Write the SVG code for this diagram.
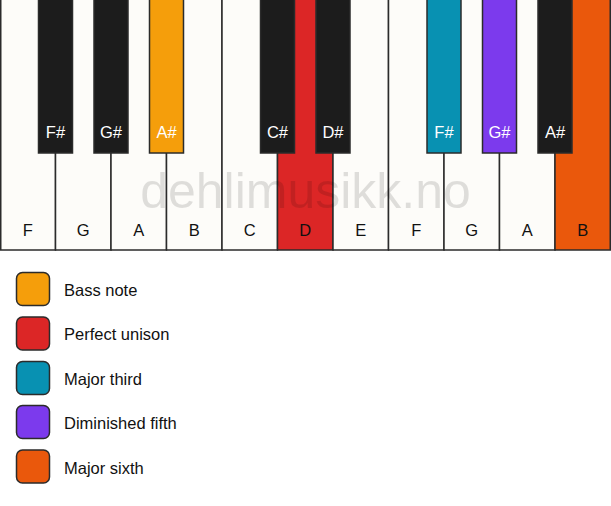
<svg xmlns="http://www.w3.org/2000/svg" width="611" height="506" viewBox="0 0 611 506">
<style>
.w{fill:#fdfcf9;stroke:#2b2b2b;stroke-width:1.5}
.b{fill:#1c1c1c;stroke:#2b2b2b;stroke-width:1.5}
.wt{font-family:"Liberation Sans",Arial,sans-serif;font-size:16.5px;fill:#111;text-anchor:middle}
.bt{font-family:"Liberation Sans",Arial,sans-serif;font-size:16.5px;fill:#fff;text-anchor:middle}
.lg{stroke:#2b2b2b;stroke-width:1.5}
.lt{font-family:"Liberation Sans",Arial,sans-serif;font-size:16.5px;fill:#111}
.wm{font-family:"Liberation Sans",Arial,sans-serif;font-size:50px;fill:#000;fill-opacity:0.12;text-anchor:middle}
</style>
<rect width="611" height="506" fill="#ffffff"/>
<g id="white-keys">
<g id="w-F1"><rect class="w" x="0.75" y="-1" width="54.75" height="251"/><text class="wt" x="27.75" y="236">F</text></g>
<g id="w-G1"><rect class="w" x="55.5" y="-1" width="55.5" height="251"/><text class="wt" x="83.25" y="236">G</text></g>
<g id="w-A1"><rect class="w" x="111" y="-1" width="55.5" height="251"/><text class="wt" x="138.75" y="236">A</text></g>
<g id="w-B1"><rect class="w" x="166.5" y="-1" width="55.5" height="251"/><text class="wt" x="194.25" y="236">B</text></g>
<g id="w-C"><rect class="w" x="222" y="-1" width="55.5" height="251"/><text class="wt" x="249.75" y="236">C</text></g>
<g id="w-D"><rect class="w" x="277.5" y="-1" width="55.5" height="251" style="fill:#dc2626"/><text class="wt" x="305.25" y="236">D</text></g>
<g id="w-E"><rect class="w" x="333" y="-1" width="55.5" height="251"/><text class="wt" x="360.75" y="236">E</text></g>
<g id="w-F2"><rect class="w" x="388.5" y="-1" width="55.5" height="251"/><text class="wt" x="416.25" y="236">F</text></g>
<g id="w-G2"><rect class="w" x="444" y="-1" width="55.5" height="251"/><text class="wt" x="471.75" y="236">G</text></g>
<g id="w-A2"><rect class="w" x="499.5" y="-1" width="55.5" height="251"/><text class="wt" x="527.25" y="236">A</text></g>
<g id="w-B2"><rect class="w" x="555" y="-1" width="55.25" height="251" style="fill:#ea580c"/><text class="wt" x="582.75" y="236">B</text></g>
</g>
<g id="black-keys">
<g id="b-Fs1"><rect class="b" x="38.5" y="-1" width="34" height="154"/><text class="bt" x="55.5" y="138">F#</text></g>
<g id="b-Gs1"><rect class="b" x="94" y="-1" width="34" height="154"/><text class="bt" x="111" y="138">G#</text></g>
<g id="b-As1"><rect class="b" x="149.5" y="-1" width="34" height="154" style="fill:#f59e0b"/><text class="bt" x="166.5" y="138">A#</text></g>
<g id="b-Cs"><rect class="b" x="260.5" y="-1" width="34" height="154"/><text class="bt" x="277.5" y="138">C#</text></g>
<g id="b-Ds"><rect class="b" x="316" y="-1" width="34" height="154"/><text class="bt" x="333" y="138">D#</text></g>
<g id="b-Fs2"><rect class="b" x="427" y="-1" width="34" height="154" style="fill:#0891b2"/><text class="bt" x="444" y="138">F#</text></g>
<g id="b-Gs2"><rect class="b" x="482.5" y="-1" width="34" height="154" style="fill:#7c3aed"/><text class="bt" x="499.5" y="138">G#</text></g>
<g id="b-As2"><rect class="b" x="538" y="-1" width="34" height="154"/><text class="bt" x="555" y="138">A#</text></g>
</g>
<text class="wm" x="305.5" y="208">dehlimusikk.no</text>
<g id="connectors"/>
<g id="legend">
<g id="lg-bass"><rect class="lg" x="16.5" y="272.5" width="33" height="33" rx="6" fill="#f59e0b"/><text class="lt" x="64" y="295.5">Bass note</text></g>
<g id="lg-unison"><rect class="lg" x="16.5" y="317" width="33" height="33" rx="6" fill="#dc2626"/><text class="lt" x="64" y="340">Perfect unison</text></g>
<g id="lg-third"><rect class="lg" x="16.5" y="361.5" width="33" height="33" rx="6" fill="#0891b2"/><text class="lt" x="64" y="384.5">Major third</text></g>
<g id="lg-fifth"><rect class="lg" x="16.5" y="405.5" width="33" height="33" rx="6" fill="#7c3aed"/><text class="lt" x="64" y="429">Diminished fifth</text></g>
<g id="lg-sixth"><rect class="lg" x="16.5" y="450" width="33" height="33" rx="6" fill="#ea580c"/><text class="lt" x="64" y="473.5">Major sixth</text></g>
</g>
</svg>
